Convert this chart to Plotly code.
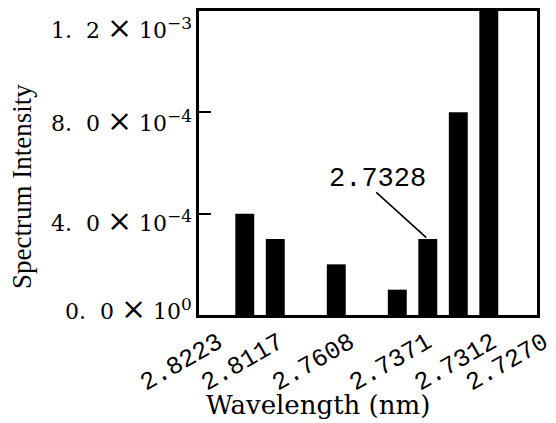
import plotly.graph_objects as go

# slot index along the axis (bars sit on an even grid; empty slots have zero)
slots = [0, 1, 2, 3, 4, 5, 6, 7, 8]
intensity = [4.0e-4, 3.0e-4, 0.0, 2.0e-4, 0.0, 1.0e-4, 3.0e-4, 8.0e-4, 1.2e-3]

x_tick_pos = [-1.38, 0.62, 2.95, 5.48, 7.61, 9.3]
x_tick_text = ["2.8223", "2.8117", "2.7608", "2.7371", "2.7312", "2.7270"]

NB = "\u00a0"
BIGX = "<span style='font-size:30px'>×</span>"
y_tick_vals = [0.0, 4.0e-4, 8.0e-4, 1.2e-3]
y_tick_mant = ["0.", "4.", "8.", "1."]
y_tick_frac = ["0", "0", "0", "2"]
y_tick_exp = ["0", "−4", "−4", "−3"]
y_label_yshift = [7, -7, -8, -16]   # label offsets (px) as placed in the original

annot_slot = 6
annot_value = 3.0e-4
annot_text = "2.7328"

x_title = "Wavelength (nm)"
y_title = "Spectrum Intensity"

fig = go.Figure()
fig.add_trace(go.Bar(x=slots, y=intensity, width=0.62,
                     marker=dict(color="black", line=dict(width=0))))

# y tick labels (drawn as text at the tick values)
for v, m, f, e, ys in zip(y_tick_vals, y_tick_mant, y_tick_frac, y_tick_exp, y_label_yshift):
    txt = m + NB * 2 + f + NB + BIGX + NB + "10<sup><span style='font-size:17px'>" + e + "</span></sup>"
    fig.add_annotation(xref="paper", yref="y", x=0, y=v, text=txt, showarrow=False,
                       xanchor="right", yanchor="middle", xshift=-5, yshift=ys,
                       font=dict(family="DejaVu Serif", size=22, color="black"))

# label text, offset from the bar it points at
fig.add_annotation(x=annot_slot, y=annot_value, text=annot_text,
                   showarrow=False, xshift=-50, yshift=60,
                   font=dict(family="Liberation Mono", size=27, color="black"))
# leader line from below the label to the bar top
fig.add_annotation(x=annot_slot, y=annot_value, text="",
                   showarrow=True, arrowhead=0, arrowwidth=1.6, arrowcolor="black",
                   ax=-53, ay=-48, standoff=2)

fig.add_annotation(xref="paper", yref="paper", x=0.352, y=-0.296, text=x_title,
                   showarrow=False, xanchor="center", yanchor="middle",
                   font=dict(family="DejaVu Serif", size=26, color="black"))
fig.add_annotation(xref="paper", yref="paper", x=-0.524, y=0.424, text=y_title,
                   showarrow=False, xanchor="center", yanchor="middle", textangle=-90,
                   font=dict(family="Liberation Serif", size=27, color="black"))

fig.update_layout(
    width=548, height=415,
    margin=dict(l=191, r=19, t=3, b=108, autoexpand=False),
    paper_bgcolor="white", plot_bgcolor="white",
    showlegend=False,
    xaxis=dict(range=[-1.5, 9.58], showgrid=False, zeroline=False, automargin=False,
               showline=True, linecolor="black", linewidth=2.5, mirror=True,
               tickmode="array", tickvals=x_tick_pos, ticktext=x_tick_text,
               tickangle=-30, ticks="", ticklabelshift=15,
               ticklabeloverflow="allow",
               tickfont=dict(family="Liberation Mono", size=25, color="black")),
    yaxis=dict(range=[0, 1.2e-3], showgrid=False, zeroline=False, automargin=False,
               showline=True, linecolor="black", linewidth=2.5, mirror=True,
               tickmode="array", tickvals=y_tick_vals, showticklabels=False,
               ticks="inside", ticklen=12, tickwidth=2, tickcolor="black"),
)

fig.write_html("out.html")
